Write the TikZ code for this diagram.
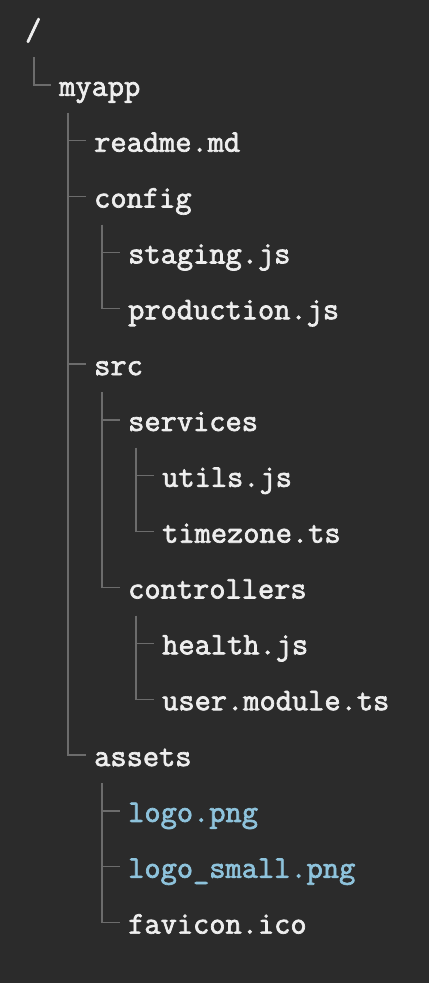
\documentclass[tikz,border=0pt]{standalone}
\usepackage{fontspec}
\setmonofont[AutoFakeBold=2.2]{Latin Modern Mono}
\usepackage{xcolor}
\definecolor{bgdark}{HTML}{2B2B2B}
\definecolor{fgtext}{HTML}{EEEEEE}
\definecolor{fgblue}{HTML}{8EC3DC}
\definecolor{linegray}{HTML}{6C6C6C}

\tikzset{
  entry/.style={anchor=base west, inner sep=0pt, text=fgtext,
    font=\ttfamily\bfseries\fontsize{31.5}{32}\selectfont},
  image/.style={entry, text=fgblue},
  branch/.style={draw=linegray, line width=1.3pt}
}

\begin{document}
\begin{tikzpicture}[x=1pt,y=1pt]

\fill[bgdark] (0,0) rectangle (429,-983);
\useasboundingbox (0,0) rectangle (429,-983);

\node[entry] (root) at (25,-40) {/};
\node[entry] (myapp) at (59,-95.85) {myapp};
\node[entry] (readme) at (94,-151.7) {readme.md};
\node[entry] (config) at (94,-207.55) {config};
\node[entry] (staging) at (128,-263.4) {staging.js};
\node[entry] (production) at (128,-319.25) {production.js};
\node[entry] (src) at (94,-375.1) {src};
\node[entry] (services) at (128,-430.95) {services};
\node[entry] (utils) at (162,-486.8) {utils.js};
\node[entry] (timezone) at (162,-542.65) {timezone.ts};
\node[entry] (controllers) at (128,-598.5) {controllers};
\node[entry] (health) at (162,-654.35) {health.js};
\node[entry] (usermodule) at (162,-710.2) {user.module.ts};
\node[entry] (assets) at (94,-766.05) {assets};
\node[image] (logo) at (128,-821.9) {logo.png};
\node[image] (logosmall) at (128,-877.75) {logo\_small.png};
\node[entry] (favicon) at (128,-933.6) {favicon.ico};

\draw[branch] ([xshift=9pt,yshift=-17pt]root.base west) |- ([xshift=-8pt,yshift=11pt]myapp.base west);

\draw[branch] ([xshift=9pt,yshift=-17pt]myapp.base west) |- ([xshift=-8pt,yshift=11pt]readme.base west);
\draw[branch] ([xshift=9pt,yshift=-17pt]myapp.base west) |- ([xshift=-8pt,yshift=11pt]config.base west);
\draw[branch] ([xshift=9pt,yshift=-17pt]myapp.base west) |- ([xshift=-8pt,yshift=11pt]src.base west);
\draw[branch] ([xshift=9pt,yshift=-17pt]myapp.base west) |- ([xshift=-8pt,yshift=11pt]assets.base west);

\draw[branch] ([xshift=8pt,yshift=-17pt]config.base west) |- ([xshift=-8pt,yshift=11pt]staging.base west);
\draw[branch] ([xshift=8pt,yshift=-17pt]config.base west) |- ([xshift=-8pt,yshift=11pt]production.base west);

\draw[branch] ([xshift=8pt,yshift=-17pt]src.base west) |- ([xshift=-8pt,yshift=11pt]services.base west);
\draw[branch] ([xshift=8pt,yshift=-17pt]src.base west) |- ([xshift=-8pt,yshift=11pt]controllers.base west);

\draw[branch] ([xshift=8pt,yshift=-17pt]services.base west) |- ([xshift=-8pt,yshift=11pt]utils.base west);
\draw[branch] ([xshift=8pt,yshift=-17pt]services.base west) |- ([xshift=-8pt,yshift=11pt]timezone.base west);

\draw[branch] ([xshift=8pt,yshift=-17pt]controllers.base west) |- ([xshift=-8pt,yshift=11pt]health.base west);
\draw[branch] ([xshift=8pt,yshift=-17pt]controllers.base west) |- ([xshift=-8pt,yshift=11pt]usermodule.base west);

\draw[branch] ([xshift=8pt,yshift=-17pt]assets.base west) |- ([xshift=-8pt,yshift=11pt]logo.base west);
\draw[branch] ([xshift=8pt,yshift=-17pt]assets.base west) |- ([xshift=-8pt,yshift=11pt]logosmall.base west);
\draw[branch] ([xshift=8pt,yshift=-17pt]assets.base west) |- ([xshift=-8pt,yshift=11pt]favicon.base west);

\end{tikzpicture}
\end{document}
